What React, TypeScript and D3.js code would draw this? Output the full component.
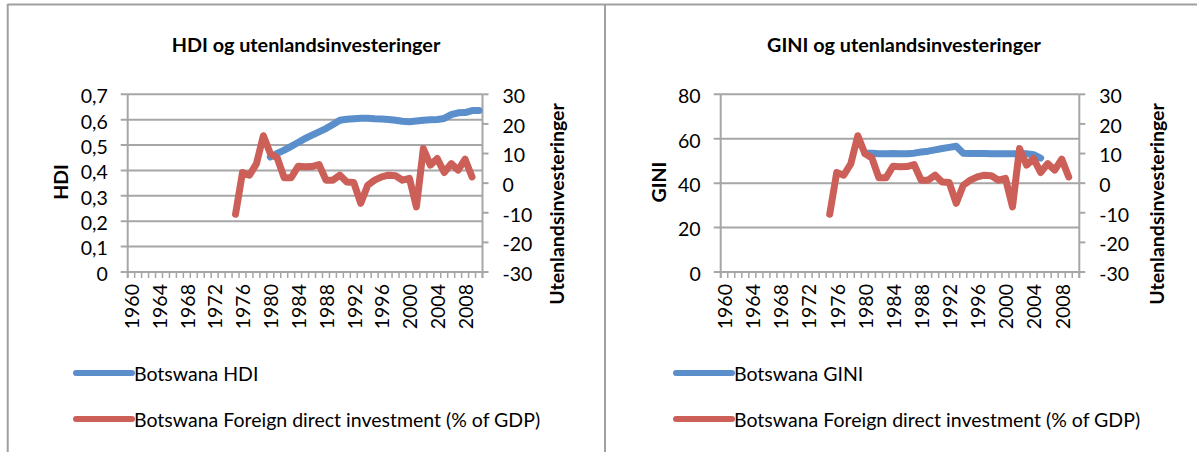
import React from 'react';
import * as d3 from 'd3';

// ---------- data ----------
const years: number[] = [
  1960, 1961, 1962, 1963, 1964, 1965, 1966, 1967, 1968, 1969,
  1970, 1971, 1972, 1973, 1974, 1975, 1976, 1977, 1978, 1979,
  1980, 1981, 1982, 1983, 1984, 1985, 1986, 1987, 1988, 1989,
  1990, 1991, 1992, 1993, 1994, 1995, 1996, 1997, 1998, 1999,
  2000, 2001, 2002, 2003, 2004, 2005, 2006, 2007, 2008, 2009, 2010,
];
const xLabelYears: number[] = [1960, 1964, 1968, 1972, 1976, 1980, 1984, 1988, 1992, 1996, 2000, 2004, 2008];

const fdiYears: number[] = [
  1975, 1976, 1977, 1978, 1979, 1980, 1981, 1982, 1983, 1984, 1985, 1986,
  1987, 1988, 1989, 1990, 1991, 1992, 1993, 1994, 1995, 1996, 1997, 1998,
  1999, 2000, 2001, 2002, 2003, 2004, 2005, 2006, 2007, 2008, 2009,
];
const fdiValues: number[] = [
  -10.5, 3.6, 2.7, 6.5, 16.0, 10.0, 8.5, 1.8, 1.8, 5.7, 5.5, 5.6,
  6.3, 1.0, 1.0, 2.7, 0.4, 0.2, -6.8, -0.7, 1.0, 2.1, 2.7, 2.5,
  1.0, 1.6, -8.0, 11.7, 6.1, 8.3, 3.6, 6.6, 4.4, 8.1, 2.1,
];

const hdiYears: number[] = [
  1980, 1981, 1982, 1983, 1984, 1985, 1986, 1987, 1988, 1989, 1990,
  1991, 1992, 1993, 1994, 1995, 1996, 1997, 1998, 1999, 2000,
  2001, 2002, 2003, 2004, 2005, 2006, 2007, 2008, 2009, 2010,
];
const hdiValues: number[] = [
  0.453, 0.467, 0.48, 0.495, 0.51, 0.526, 0.539, 0.552, 0.565, 0.581, 0.598,
  0.602, 0.604, 0.606, 0.606, 0.604, 0.603, 0.601, 0.598, 0.594, 0.592,
  0.595, 0.598, 0.6, 0.601, 0.605, 0.62, 0.627, 0.628, 0.636, 0.636,
];

const giniYears: number[] = [
  1980, 1981, 1982, 1983, 1984, 1985, 1986, 1987, 1988, 1989, 1990, 1991, 1992,
  1993, 1994, 1995, 1996, 1997, 1998, 1999, 2000, 2001, 2002, 2003, 2004, 2005,
];
const giniValues: number[] = [
  53.5, 53.5, 53.2, 53.2, 53.3, 53.2, 53.2, 53.5, 54.0, 54.4, 55.0, 55.6, 56.1,
  56.6, 53.5, 53.4, 53.4, 53.4, 53.2, 53.2, 53.2, 53.2, 53.2, 53.2, 52.8, 51.3,
];

const hdiTicks: number[] = [0, 0.1, 0.2, 0.3, 0.4, 0.5, 0.6, 0.7];
const giniTicks: number[] = [0, 20, 40, 60, 80];
const fdiTicks: number[] = [-30, -20, -10, 0, 10, 20, 30];

// ---------- style ----------
const FONT = "Lato, 'Open Sans', sans-serif";
const FS = 19.5;
const BLUE = '#5a8fcb';
const RED = '#cc5f58';
const GRID = '#a6a6a6';

type Pt = { year: number; value: number };
const zip = (ys: number[], vs: number[]): Pt[] => ys.map((y, i) => ({ year: y, value: vs[i] }));

interface ChartProps {
  x0: number;
  x1: number;
  title: string;
  titleX: number;
  leftTitle: string;
  leftTitleX: number;
  leftDomain: [number, number];
  leftTicks: number[];
  leftFmt: (v: number) => string;
  leftData: Pt[];
  rightTitleX: number;
  legendX: number;
  leftLegend: string;
}

const Y_TOP = 94.3;
const Y_BOT = 272;

function Chart(p: ChartProps) {
  const x = d3.scaleBand<number>().domain(years).range([p.x0, p.x1]).padding(0);
  const cx = (yr: number) => (x(yr) as number) + x.bandwidth() / 2;
  const yL = d3.scaleLinear().domain(p.leftDomain).range([Y_BOT, Y_TOP]);
  const yR = d3.scaleLinear().domain([-30, 30]).range([Y_BOT, Y_TOP]);

  const lineL = d3.line<Pt>().x((d) => cx(d.year)).y((d) => yL(d.value));
  const lineR = d3.line<Pt>().x((d) => cx(d.year)).y((d) => yR(d.value));
  const fdi = zip(fdiYears, fdiValues);

  const boundaries = years.map((yr) => x(yr) as number).concat([p.x1]);

  return (
    <g>
      <text x={p.titleX} y={45} textAnchor="middle" dy="0.35em" fontFamily={FONT} fontWeight="bold" fontSize={19.8}>
        {p.title}
      </text>
      {/* gridlines + left ticks */}
      {p.leftTicks.map((t) => (
        <line key={'g' + t} x1={p.x0 - 7} x2={p.x1} y1={yL(t)} y2={yL(t)} stroke={GRID} strokeWidth={2} />
      ))}
      {/* x ticks */}
      {boundaries.map((b, i) => (
        <line key={'xt' + i} x1={b} x2={b} y1={Y_BOT} y2={Y_BOT + 6} stroke={GRID} strokeWidth={1.5} />
      ))}
      {/* axes */}
      <line x1={p.x0} x2={p.x0} y1={Y_TOP} y2={Y_BOT + 6} stroke={GRID} strokeWidth={2} />
      <line x1={p.x1} x2={p.x1} y1={Y_TOP} y2={Y_BOT + 6} stroke={GRID} strokeWidth={2} />
      {fdiTicks.map((t) => (
        <line key={'rt' + t} x1={p.x1} x2={p.x1 + 6} y1={yR(t)} y2={yR(t)} stroke={GRID} strokeWidth={2} />
      ))}
      {/* left tick labels */}
      {p.leftTicks.map((t) => (
        <text key={'ll' + t} x={p.x0 - 20} y={yL(t) + 2} dy="0.35em" textAnchor="end" fontFamily={FONT} fontSize={FS}>
          {p.leftFmt(t)}
        </text>
      ))}
      {/* right tick labels */}
      {fdiTicks.map((t) => (
        <text key={'rl' + t} x={p.x1 + 20} y={yR(t) + 2} dy="0.35em" textAnchor="start" fontFamily={FONT} fontSize={FS}>
          {String(t)}
        </text>
      ))}
      {/* x labels */}
      {xLabelYears.map((yr) => (
        <text
          key={'xl' + yr}
          transform={`translate(${cx(yr) + 1},${Y_BOT + 12}) rotate(-90)`}
          dy="0.35em"
          textAnchor="end"
          fontFamily={FONT}
          fontSize={FS}
        >
          {String(yr)}
        </text>
      ))}
      {/* axis titles */}
      <text
        transform={`translate(${p.leftTitleX},182) rotate(-90)`}
        dy="0.35em"
        textAnchor="middle"
        fontFamily={FONT}
        fontWeight="bold"
        fontSize={FS}
      >
        {p.leftTitle}
      </text>
      <text
        transform={`translate(${p.rightTitleX},204) rotate(-90)`}
        dy="0.35em"
        textAnchor="middle"
        fontFamily={FONT}
        fontWeight="bold"
        fontSize={FS}
      >
        Utenlandsinvesteringer
      </text>
      {/* series */}
      <path d={lineL(p.leftData) || ''} fill="none" stroke={BLUE} strokeWidth={7} strokeLinejoin="round" strokeLinecap="round" />
      <path d={lineR(fdi) || ''} fill="none" stroke={RED} strokeWidth={7} strokeLinejoin="round" strokeLinecap="round" />
      {/* legend */}
      <line x1={p.legendX} x2={p.legendX + 56} y1={373} y2={373} stroke={BLUE} strokeWidth={6} strokeLinecap="round" />
      <text x={p.legendX + 58} y={374} dy="0.35em" fontFamily={FONT} fontSize={FS}>
        {p.leftLegend}
      </text>
      <line x1={p.legendX} x2={p.legendX + 56} y1={419} y2={419} stroke={RED} strokeWidth={6} strokeLinecap="round" />
      <text x={p.legendX + 58} y={420} dy="0.35em" fontFamily={FONT} fontSize={FS}>
        Botswana Foreign direct investment (% of GDP)
      </text>
    </g>
  );
}

const commaFmt = (v: number) => d3.format('.1~f')(v).replace('.', ',');

export default function App() {
  return (
    <svg
      width={1197}
      height={452}
      style={{ position: 'absolute', left: 0, top: 0, background: '#fff' }}
    >
      <rect x={0} y={0} width={1197} height={452} fill="#fff" />
      {/* frame */}
      <line x1={7.5} x2={1197} y1={4.5} y2={4.5} stroke="#a0a0a0" strokeWidth={2} />
      <line x1={7.7} x2={7.7} y1={4} y2={452} stroke="#a0a0a0" strokeWidth={2} />
      <line x1={605} x2={605} y1={4} y2={452} stroke="#a0a0a0" strokeWidth={2} />
      <Chart
        x0={127.7}
        x1={482.5}
        title="HDI og utenlandsinvesteringer"
        titleX={306}
        leftTitle="HDI"
        leftTitleX={61}
        leftDomain={[0, 0.7]}
        leftTicks={hdiTicks}
        leftFmt={commaFmt}
        leftData={zip(hdiYears, hdiValues)}
        rightTitleX={557}
        legendX={76}
        leftLegend="Botswana HDI"
      />
      <Chart
        x0={720.7}
        x1={1079.3}
        title="GINI og utenlandsinvesteringer"
        titleX={904}
        leftTitle="GINI"
        leftTitleX={659}
        leftDomain={[0, 80]}
        leftTicks={giniTicks}
        leftFmt={(v) => String(v)}
        leftData={zip(giniYears, giniValues)}
        rightTitleX={1157}
        legendX={676}
        leftLegend="Botswana GINI"
      />
    </svg>
  );
}
